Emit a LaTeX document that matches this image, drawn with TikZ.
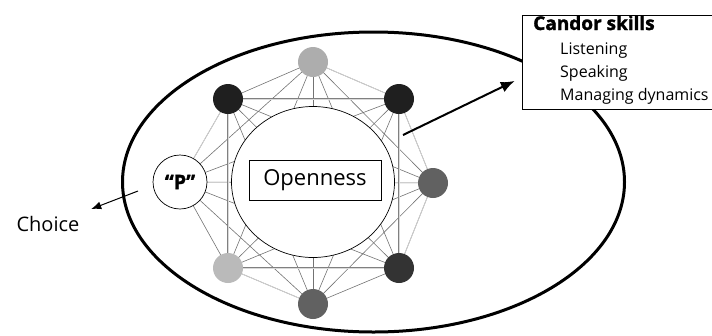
\documentclass[tikz,border=0pt]{standalone}
\usepackage{fontspec}
\setmainfont{Open Sans}
\newfontfamily\heavyfont{Open Sans}[BoldFeatures={FakeBold=1.6}]
\usetikzlibrary{shapes.geometric,arrows.meta}

\begin{document}
\begin{tikzpicture}[
    x=1pt, y=-1pt,
    member/.style={circle, minimum size=30pt, inner sep=0pt},
    link/.style={draw=black!55, line width=0.6pt},
    rim/.style={draw=black!15, line width=0.6pt},
    frame/.style={draw=black!50, double=black!15, double distance=0.9pt, line width=0.5pt},
    txt/.style={anchor=base west, inner sep=0pt, font=\fontsize{16}{19}\selectfont}
]
    \useasboundingbox (0,0) rectangle (712,335);

    % outer boundary
    \draw[line width=3pt] (373.5,182) ellipse [x radius=251, y radius=150];

    % team members
    \coordinate (n1c) at (313,62);
    \coordinate (n2c) at (399,99);
    \coordinate (n3c) at (433,183);
    \coordinate (n4c) at (399,268);
    \coordinate (n5c) at (313,304);
    \coordinate (n6c) at (228,268);
    \coordinate (n7c) at (180,182);
    \coordinate (n8c) at (228,99);

    % every member talks to every other one
    \foreach \i in {1,...,8}{
        \foreach \j in {\i,...,8}{
            \ifnum\i<\j \draw[link] (n\i c) -- (n\j c); \fi
        }
    }
    \foreach \a/\b in {1/2, 2/3, 3/4, 5/6, 7/8}
        \draw[rim] (n\a c) -- (n\b c);
    \foreach \a/\b in {2/4, 4/6, 6/8, 8/2}
        \draw[frame] (n\a c) -- (n\b c);

    \node[member, fill=black!32] (n1) at (n1c) {};
    \node[member, fill=black!88] (n2) at (n2c) {};
    \node[member, fill=black!62] (n3) at (n3c) {};
    \node[member, fill=black!80] (n4) at (n4c) {};
    \node[member, fill=black!62] (n5) at (n5c) {};
    \node[member, fill=black!27] (n6) at (n6c) {};
    \node[member, fill=black!88] (n8) at (n8c) {};

    % the person making the choice
    \node[circle, draw, fill=white, minimum size=54pt, inner sep=0pt, line width=0.7pt,
          font=\heavyfont\bfseries\fontsize{20}{24}\selectfont] (p) at (n7c) {“P”};

    % centre
    \node[ellipse, draw, fill=white, minimum width=163pt, minimum height=151pt, line width=0.7pt] (core) at (313,182) {};
    \node[draw, fill=white, minimum width=132pt, minimum height=40pt, inner sep=0pt, line width=0.6pt,
          font=\fontsize{22}{26}\selectfont] (open) at (315,180) {Openness};

    % skills box
    \node[draw, fill=white, line width=0.8pt, anchor=north west, minimum width=200pt, minimum height=94pt] (skills) at (522,15) {};
    \node[txt, font=\heavyfont\bfseries\fontsize{19}{22}\selectfont] (head) at (533,30) {Candor skills};
    \node[txt] (listen) at (560,54) {Listening};
    \node[txt] (speak) at (560,77) {Speaking};
    \node[txt] (manage) at (560,100) {Managing dynamics};

    \node[anchor=base west, font=\fontsize{20}{24}\selectfont] (choice) at (13,231) {Choice};

    % arrows
    \coordinate (netout) at (403,135);
    \coordinate (pout) at (138,191);
    \draw[line width=2pt, -{Latex[length=14pt,width=11pt]}, shorten >=8pt] (netout) -- ([yshift=-15pt]skills.west);
    \draw[line width=1pt, -{Latex[length=10pt,width=8pt]}, shorten >=9pt] (pout) -- (choice.north east);
\end{tikzpicture}
\end{document}
